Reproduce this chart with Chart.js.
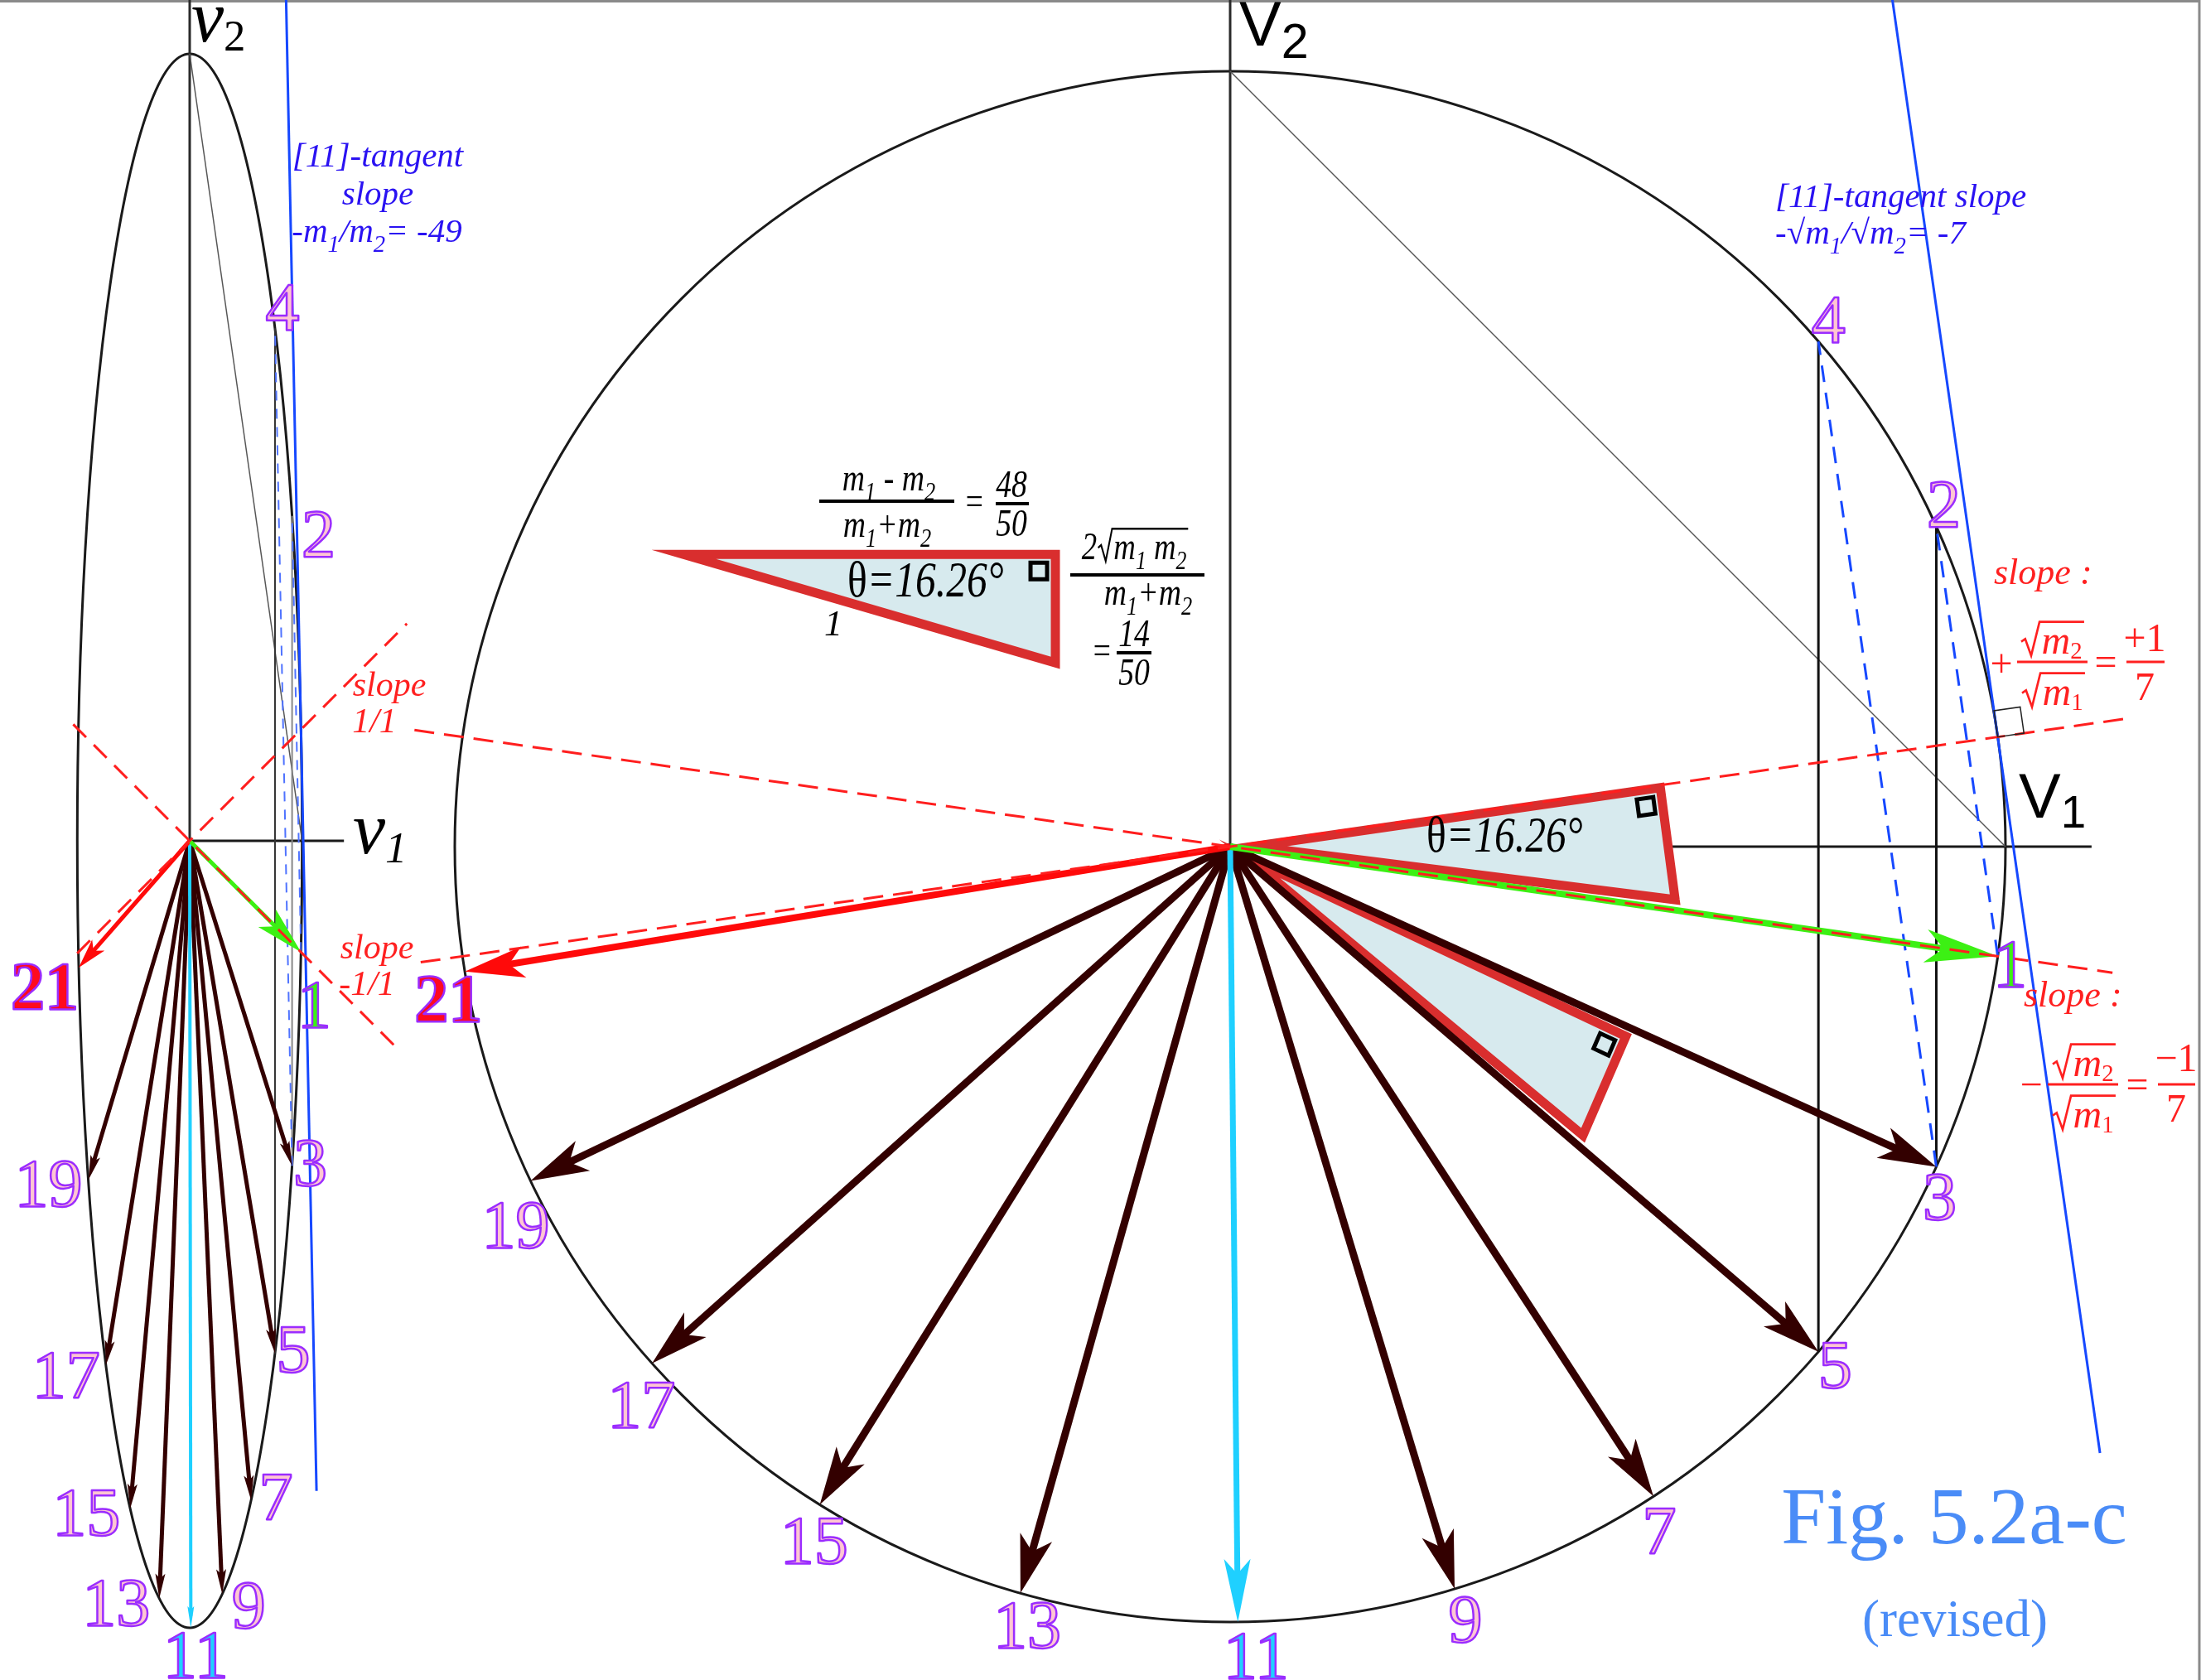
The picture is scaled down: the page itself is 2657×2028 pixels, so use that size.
<!DOCTYPE html>
<html>
<head>
<meta charset="utf-8">
<script src="https://cdn.jsdelivr.net/npm/chart.js@4.4.1/dist/chart.umd.min.js"></script>
<style>
  html, body { margin: 0; padding: 0; background: #fff; }
  canvas { display: block; }
</style>
</head>
<body>
<canvas id="fig" width="2657" height="2028"></canvas>
<script>
// ---- data ----
const masses = [49, 1];                 // m1, m2
const thetaDeg = 16.26;                 // rotation per bounce pair
const pointLabels = ['1', '2', '3', '4', '5', '7', '9', '11', '13', '15', '17', '19', '21'];
const pointAngles = [-8.13, 24.39, -24.39, 40.65, -40.65, -56.91, -73.17, -89.43, -105.69, -121.95, -138.21, -154.47, -170.73];
const arrowLabels = ['3', '5', '7', '9', '13', '15', '17', '19', '11', '21', '1'];
const wallLines = [['4', '5'], ['2', '3']];      // V2 flips
const hitLines = [['1', '2'], ['3', '4']];       // momentum lines
const tangentDeg = 8.13;                         // where the +1/7 line meets the circle

// ---- layout ----
const W = 2657, H = 2028;
const SERIF = '"Liberation Serif", "Times New Roman", Times, serif';
const SANS = '"Liberation Sans", Arial, Helvetica, sans-serif';
const circleFrame = { cx: 1485, cy: 1022, r: 936 };
const ellipseFrame = { cx: 229, cy: 1015, r: 950 };

const circleLabelOffset = {'1': [15, 9], '2': [9, -27], '3': [4, 36], '4': [12, -27], '5': [20, 15], '7': [7, 41], '9': [13, 36],
  '11': [22, 40], '13': [8, 38], '15': [-7, 43], '17': [-13, 49], '19': [-18, 53], '21': [-20, 32]};
const ellipseLabelOffset = {'1': [16, 63], '2': [32, 21], '3': [22, -4], '4': [9, -26], '5': [22, -6], '7': [30, -5], '9': [32, 13],
  '11': [6, 32], '13': [-52, 5], '15': [-53, 4], '17': [-48, 11], '19': [-48, 4], '21': [-41, 22]};

const BROWN = '#330000', CYAN = '#1fd0ff', GREEN = '#3cf014', RED = '#ff0a0a';
const DASHRED = '#ff1e1e', BLUE = '#1648ff', TRI_RED = '#d92e2e', TRI_FILL = '#d7eaee';

const rad = d => d * Math.PI / 180;
const theta = rad(thetaDeg);
const squash = Math.sqrt(masses[1] / masses[0]);          // 1/7
const onCircle = (deg, r = 1) => ({ x: r * Math.cos(rad(deg)), y: r * Math.sin(rad(deg)) });
const toEllipse = p => ({ x: p.x * squash, y: p.y });
const P = l => onCircle(pointAngles[pointLabels.indexOf(l)]);

const datasets = [];
function addLine(pts, style, grp) {
  datasets.push(Object.assign({
    data: pts, showLine: true, pointRadius: 0, pointHoverRadius: 0, pointHitRadius: 0,
    fill: false, tension: 0, borderColor: '#000', borderWidth: 3, borderCapStyle: 'butt',
    borderJoinStyle: 'miter',
    xAxisID: grp === 'e' ? 'ex' : 'x', yAxisID: grp === 'e' ? 'ey' : 'y'
  }, style));
}
function arrowStyle(l, small) {
  const big = {
    '1': { c: GREEN, w: 8, len: 88, half: 20, notch: 22 },
    '11': { c: CYAN, w: 7, len: 76, half: 16, notch: 18 },
    '21': { c: RED, w: 8, len: 72, half: 19, notch: 18 }
  };
  const sm = {
    '1': { c: GREEN, w: 5, len: 58, half: 15, notch: 14 },
    '11': { c: CYAN, w: 4, len: 26, half: 4, notch: 4 },
    '21': { c: RED, w: 5, len: 36, half: 10, notch: 9 }
  };
  const t = small ? sm : big;
  return t[l] || (small ? { c: BROWN, w: 5, len: 30, half: 6, notch: 6 } : { c: BROWN, w: 9, len: 70, half: 20, notch: 18 });
}

// ---------- ellipse (v1, v2) ----------
const eTop = ellipseFrame.cy / ellipseFrame.r + 0.01;
addLine([{ x: 0, y: 0 }, { x: 0, y: eTop }], { borderColor: '#2a2a2a' }, 'e');
addLine([{ x: 0, y: 0 }, { x: 0.196, y: 0 }], { borderColor: '#1a1a1a' }, 'e');
addLine([{ x: 0, y: 1 }, { x: squash, y: 0 }], { borderColor: '#555', borderWidth: 1.5 }, 'e');
wallLines.forEach(([a, b], i) => addLine([toEllipse(P(a)), toEllipse(P(b))],
  { borderColor: i ? '#888' : '#333', borderWidth: 2 }, 'e'));
hitLines.forEach(([a, b]) => addLine([toEllipse(P(a)), toEllipse(P(b))],
  { borderColor: '#4f73ff', borderWidth: 2, borderDash: [12, 10] }, 'e'));
{
  const T = toEllipse(onCircle(tangentDeg));
  const k = -masses[0] / masses[1];
  const y1 = 1.07, y2 = -0.826;
  addLine([{ x: T.x + (y1 - T.y) / k, y: y1 }, { x: T.x + (y2 - T.y) / k, y: y2 }], { borderColor: BLUE, borderWidth: 3 }, 'e');
}
arrowLabels.forEach(l => {
  const s = arrowStyle(l, true);
  const tip = toEllipse(P(l));
  const d = Math.hypot(tip.x, tip.y), cut = (s.len * 0.55) / ellipseFrame.r;
  const end = { x: tip.x * (1 - cut / d), y: tip.y * (1 - cut / d) };
  addLine([{ x: 0, y: 0 }, end], { borderColor: s.c, borderWidth: s.w, head: Object.assign({ tip }, s) }, 'e');
});
[[1, -0.143, 0.276], [-1, -0.148, 0.262]].forEach(([k, a, b]) => {
  const slope = k * Math.tan(rad(tangentDeg)) / squash;   // ±1 in (v1, v2)
  addLine([{ x: a, y: slope * a }, { x: b, y: slope * b }], { borderColor: DASHRED, borderWidth: 3, borderDash: [22, 13] }, 'e');
});

// ---------- circle (V1, V2) ----------
addLine([{ x: 0, y: 0 }, { x: 0, y: 1.1 }], { borderColor: '#2a2a2a' });
addLine([{ x: 0, y: 0 }, { x: 1.111, y: 0 }], { borderColor: '#1a1a1a' });
addLine([{ x: 0, y: 1 }, { x: 1, y: 0 }], { borderColor: '#555', borderWidth: 1.5 });
wallLines.forEach(([a, b]) => addLine([P(a), P(b)], { borderColor: '#111', borderWidth: 3 }));
hitLines.forEach(([a, b]) => addLine([P(a), P(b)], { borderColor: BLUE, borderWidth: 3, borderDash: [20, 13] }));
{
  const T = onCircle(tangentDeg);
  const k = -Math.sqrt(masses[0] / masses[1]);
  const y1 = 1.1, y2 = -0.782;
  addLine([{ x: T.x + (y1 - T.y) / k, y: y1 }, { x: T.x + (y2 - T.y) / k, y: y2 }], { borderColor: BLUE, borderWidth: 3 });
}
// triangles: [apex, right-angle corner, far corner]
const triangles = [
  [onCircle(0.5, 0.03), onCircle(7.8, 0.56), onCircle(-6.8, 0.578)],
  [onCircle(-32, 0.03), onCircle(-25.6, 0.566), onCircle(-39.3, 0.588)],
  (() => { const a = { x: -0.705, y: 0.377 }, b = { x: -0.2254, y: 0.377 };
           return [a, b, { x: b.x, y: b.y - (b.x - a.x) * Math.tan(theta) }]; })()
];
triangles.forEach(t => addLine([t[1], t[2], t[0], t[1], t[2]],
  { borderColor: TRI_RED, borderWidth: 11, shapeFill: TRI_FILL, corner: t }));
arrowLabels.forEach(l => {
  const s = arrowStyle(l, false);
  const tip = P(l);
  const cut = (s.len * 0.6) / circleFrame.r;
  const end = { x: tip.x * (1 - cut), y: tip.y * (1 - cut) };
  addLine([{ x: 0, y: 0 }, end], { borderColor: s.c, borderWidth: s.w, head: Object.assign({ tip }, s) });
});
[[1, -1.044, 1.156], [-1, -1.052, 1.138]].forEach(([k, a, b]) => {
  const slope = k * Math.tan(rad(tangentDeg));            // ±1/7
  addLine([{ x: a, y: slope * a }, { x: b, y: slope * b }], { borderColor: DASHRED, borderWidth: 3, borderDash: [24, 12] });
});

datasets.forEach((d, i) => { d.order = datasets.length - i; });

// ---------- text helpers ----------
const I = (t) => ({ t, it: true });
const U = (t) => ({ t, it: false });
const S = (t, it = true) => ({ t, it, sub: true });
const Q = (parts) => ({ sq: parts });

function fontStr(o, size, it) {
  return (it ? 'italic ' : '') + (o.bold ? 'bold ' : '') + size + 'px ' + o.family;
}
function measureParts(ctx, parts, o) {
  let w = 0;
  for (const p of parts) {
    if (p.sq) w += o.size * 0.55 + measureParts(ctx, p.sq, o) + o.size * 0.05;
    else {
      ctx.font = fontStr(o, p.sub ? o.size * o.subScale : o.size, p.it);
      w += ctx.measureText(p.t).width;
    }
  }
  return w;
}
function drawParts(ctx, parts, x, y, o) {
  for (const p of parts) {
    if (p.sq) {
      const s = o.size, inner = measureParts(ctx, p.sq, o);
      ctx.beginPath();
      ctx.moveTo(x + 0.04 * s, y - 0.30 * s);
      ctx.lineTo(x + 0.14 * s, y - 0.37 * s);
      ctx.lineTo(x + 0.29 * s, y + 0.05 * s);
      ctx.lineTo(x + 0.50 * s, y - 0.80 * s);
      ctx.lineTo(x + 0.55 * s + inner + 0.05 * s, y - 0.80 * s);
      ctx.lineWidth = s * 0.055; ctx.strokeStyle = o.color; ctx.lineJoin = 'miter'; ctx.stroke();
      x = drawParts(ctx, p.sq, x + 0.55 * s, y, o) + 0.05 * s;
    } else {
      const size = p.sub ? o.size * o.subScale : o.size;
      ctx.font = fontStr(o, size, p.it);
      ctx.fillText(p.t, x, y + (p.sub ? o.size * o.subDy : 0));
      x += ctx.measureText(p.t).width;
    }
  }
  return x;
}
function rich(ctx, parts, x, y, opts) {
  const o = Object.assign({ size: 40, family: SERIF, color: '#000', align: 'left',
    subScale: 0.65, subDy: 0.24, hscale: 1 }, opts);
  ctx.save();
  ctx.fillStyle = o.color; ctx.textAlign = 'left'; ctx.textBaseline = 'alphabetic';
  const w = measureParts(ctx, parts, o) * o.hscale;
  const x0 = o.align === 'center' ? x - w / 2 : o.align === 'right' ? x - w : x;
  ctx.translate(x0, y); ctx.scale(o.hscale, 1);
  drawParts(ctx, parts, 0, 0, o);
  ctx.restore();
}
function bar(ctx, x1, x2, y, color, w) {
  ctx.save(); ctx.strokeStyle = color; ctx.lineWidth = w;
  ctx.beginPath(); ctx.moveTo(x1, y); ctx.lineTo(x2, y); ctx.stroke(); ctx.restore();
}
function numberLabel(ctx, text, cx, cy) {
  const fills = { '1': '#3cf014', '11': '#1fd0ff', '21': '#ff0a1e' };
  const size = 82;
  ctx.save();
  ctx.font = (text === '21' ? 'bold ' : '') + size + 'px ' + SERIF;
  ctx.textAlign = 'center'; ctx.textBaseline = 'alphabetic';
  const by = cy + size * 0.34;
  ctx.fillStyle = fills[text] || '#ffc6d2';
  ctx.fillText(text, cx, by);
  ctx.lineWidth = 2.5; ctx.strokeStyle = '#9b2cff'; ctx.lineJoin = 'round';
  ctx.strokeText(text, cx, by);
  ctx.restore();
}

// ---------- drawing plugin ----------
const pix = (chart, xs, ys, p) => ({ x: chart.scales[xs].getPixelForValue(p.x), y: chart.scales[ys].getPixelForValue(p.y) });

const figurePlugin = {
  id: 'figure',
  beforeDatasetsDraw(chart) {
    const ctx = chart.ctx;
    ctx.save();
    // page frame
    ctx.strokeStyle = '#8a8a8a'; ctx.lineWidth = 3;
    ctx.beginPath(); ctx.moveTo(0, 1.5); ctx.lineTo(W - 2, 1.5); ctx.lineTo(W - 2, H); ctx.stroke();
    // circle
    const c0 = pix(chart, 'x', 'y', { x: 0, y: 0 }), c1 = pix(chart, 'x', 'y', { x: 1, y: 1 });
    ctx.strokeStyle = '#1a1a1a'; ctx.lineWidth = 3;
    ctx.beginPath(); ctx.ellipse(c0.x, c0.y, c1.x - c0.x, c0.y - c1.y, 0, 0, Math.PI * 2); ctx.stroke();
    // ellipse
    const e0 = pix(chart, 'ex', 'ey', { x: 0, y: 0 }), e1 = pix(chart, 'ex', 'ey', { x: squash, y: 1 });
    ctx.beginPath(); ctx.ellipse(e0.x, e0.y, e1.x - e0.x, e0.y - e1.y, 0, 0, Math.PI * 2); ctx.stroke();
    ctx.restore();
  },
  beforeDatasetDraw(chart, args) {
    const ds = chart.data.datasets[args.index];
    if (!ds.shapeFill) return;
    const pts = args.meta.data;
    const ctx = chart.ctx;
    ctx.save(); ctx.fillStyle = ds.shapeFill;
    ctx.beginPath(); ctx.moveTo(pts[0].x, pts[0].y); ctx.lineTo(pts[1].x, pts[1].y); ctx.lineTo(pts[2].x, pts[2].y);
    ctx.closePath(); ctx.fill(); ctx.restore();
  },
  afterDatasetDraw(chart, args) {
    const ds = chart.data.datasets[args.index];
    const ctx = chart.ctx;
    if (ds.head) {
      const h = ds.head;
      const tip = pix(chart, ds.xAxisID, ds.yAxisID, h.tip);
      const o = pix(chart, ds.xAxisID, ds.yAxisID, { x: 0, y: 0 });
      const L = Math.hypot(o.x - tip.x, o.y - tip.y);
      const bx = (o.x - tip.x) / L, by = (o.y - tip.y) / L, nx = -by, ny = bx;
      ctx.save(); ctx.fillStyle = h.c;
      ctx.beginPath();
      ctx.moveTo(tip.x, tip.y);
      ctx.lineTo(tip.x + bx * h.len + nx * h.half, tip.y + by * h.len + ny * h.half);
      ctx.lineTo(tip.x + bx * (h.len - h.notch), tip.y + by * (h.len - h.notch));
      ctx.lineTo(tip.x + bx * h.len - nx * h.half, tip.y + by * h.len - ny * h.half);
      ctx.closePath(); ctx.fill(); ctx.restore();
    }
    if (ds.corner) {
      const [a, v, b] = ds.corner.map(p => pix(chart, 'x', 'y', p));
      const ul = Math.hypot(a.x - v.x, a.y - v.y), wl = Math.hypot(b.x - v.x, b.y - v.y);
      const u = { x: (a.x - v.x) / ul, y: (a.y - v.y) / ul }, w = { x: (b.x - v.x) / wl, y: (b.y - v.y) / wl };
      const d = 10, s = 20;
      const q = (i, j) => ({ x: v.x + u.x * i + w.x * j, y: v.y + u.y * i + w.y * j });
      const c = [q(d, d), q(d + s, d), q(d + s, d + s), q(d, d + s)];
      ctx.save(); ctx.strokeStyle = '#000'; ctx.lineWidth = 5;
      ctx.beginPath(); c.forEach((p, i) => i ? ctx.lineTo(p.x, p.y) : ctx.moveTo(p.x, p.y));
      ctx.closePath(); ctx.stroke(); ctx.restore();
    }
  },
  afterDatasetsDraw(chart) {
    const ctx = chart.ctx;
    // tangent right-angle mark
    {
      const T = pix(chart, 'x', 'y', onCircle(tangentDeg));
      const a = rad(tangentDeg);
      const u = { x: Math.cos(a), y: -Math.sin(a) }, w = { x: -Math.sin(a), y: -Math.cos(a) }, s = 32;
      ctx.save(); ctx.strokeStyle = '#222'; ctx.lineWidth = 1.5;
      ctx.beginPath(); ctx.moveTo(T.x, T.y); ctx.lineTo(T.x + u.x * s, T.y + u.y * s);
      ctx.lineTo(T.x + u.x * s + w.x * s, T.y + u.y * s + w.y * s); ctx.lineTo(T.x + w.x * s, T.y + w.y * s);
      ctx.closePath(); ctx.stroke(); ctx.restore();
    }
    // point numbers
    pointLabels.forEach(l => {
      const c = pix(chart, 'x', 'y', P(l)), oc = circleLabelOffset[l];
      numberLabel(ctx, l, c.x + oc[0], c.y + oc[1]);
      const e = pix(chart, 'ex', 'ey', toEllipse(P(l))), oe = ellipseLabelOffset[l];
      numberLabel(ctx, l, e.x + oe[0], e.y + oe[1]);
    });

    // axis names
    rich(ctx, [I('v'), S('2', false)], 231, 50, { size: 88, subScale: 0.6, subDy: 0.12 });
    rich(ctx, [I('v'), S('1')], 426, 1030, { size: 88, subScale: 0.6, subDy: 0.12 });
    rich(ctx, [U('V'), S('2', false)], 1496, 55, { size: 76, family: SANS, subScale: 0.78, subDy: 0.2 });
    rich(ctx, [U('V'), S('1', false)], 2437, 987, { size: 76, family: SANS, subScale: 0.72, subDy: 0.16 });

    // blue tangent notes
    const blue = '#2a12f2';
    rich(ctx, [I('[11]-tangent')], 456, 201, { size: 41, color: blue, align: 'center' });
    rich(ctx, [I('slope')], 456, 247, { size: 41, color: blue, align: 'center' });
    rich(ctx, [I('-m'), S('1'), I('/m'), S('2'), I('= -49')], 455, 292, { size: 41, color: blue, align: 'center', subScale: 0.7, subDy: 0.3 });
    rich(ctx, [I('[11]-tangent slope')], 2143, 250, { size: 41, color: blue });
    rich(ctx, [I('-\u221Am'), S('1'), I('/\u221Am'), S('2'), I('= -7')], 2143, 294, { size: 41, color: blue, subScale: 0.7, subDy: 0.3 });

    // slopes on the ellipse
    const red = '#ff2020';
    rich(ctx, [I('slope')], 470, 840, { size: 42, color: red, align: 'center' });
    rich(ctx, [I('1/1')], 452, 884, { size: 42, color: red, align: 'center' });
    rich(ctx, [I('slope')], 455, 1157, { size: 42, color: red, align: 'center' });
    rich(ctx, [I('-1/1')], 443, 1201, { size: 42, color: red, align: 'center' });

    // slopes on the circle
    const fr = { size: 48, color: red, align: 'center', subScale: 0.6, subDy: 0.12 };
    rich(ctx, [I('slope :')], 2407, 705, { size: 44, color: red });
    rich(ctx, [U('+')], 2416, 817, fr);
    rich(ctx, [Q([I('m'), S('2', false)])], 2477, 789, fr);
    bar(ctx, 2435, 2520, 799, red, 3);
    rich(ctx, [Q([I('m'), S('1', false)])], 2478, 851, fr);
    rich(ctx, [U('=')], 2542, 815, fr);
    rich(ctx, [U('+1')], 2589, 786, fr);
    bar(ctx, 2567, 2613, 799, red, 3);
    rich(ctx, [U('7')], 2589, 845, fr);

    rich(ctx, [I('slope :')], 2443, 1215, { size: 44, color: red });
    rich(ctx, [U('\u2212')], 2452, 1325, fr);
    rich(ctx, [Q([I('m'), S('2', false)])], 2515, 1299, fr);
    bar(ctx, 2472, 2557, 1309, red, 3);
    rich(ctx, [Q([I('m'), S('1', false)])], 2515, 1361, fr);
    rich(ctx, [U('=')], 2580, 1325, fr);
    rich(ctx, [U('\u22121')], 2627, 1293, fr);
    bar(ctx, 2605, 2650, 1309, red, 3);
    rich(ctx, [U('7')], 2627, 1354, fr);

    // triangle formulas
    const fm = { size: 46, align: 'center', hscale: 0.82, subScale: 0.7, subDy: 0.25 };
    rich(ctx, [I('m'), S('1'), I(' - '), I('m'), S('2')], 1073, 592, fm);
    bar(ctx, 989, 1152, 605, '#000', 4);
    rich(ctx, [I('m'), S('1'), I('+'), I('m'), S('2')], 1071, 648, fm);
    rich(ctx, [I('=')], 1176, 620, fm);
    rich(ctx, [I('48')], 1221, 600, fm);
    bar(ctx, 1202, 1242, 608, '#000', 4);
    rich(ctx, [I('50')], 1221, 647, fm);

    rich(ctx, [I('2'), Q([I('m'), S('1'), I(' '), I('m'), S('2')])], 1370, 675, Object.assign({}, fm, { hscale: 0.8 }));
    bar(ctx, 1292, 1454, 694, '#000', 4);
    rich(ctx, [I('m'), S('1'), I('+'), I('m'), S('2')], 1386, 730, fm);
    rich(ctx, [I('=')], 1330, 800, fm);
    rich(ctx, [I('14')], 1369, 780, fm);
    bar(ctx, 1348, 1390, 788, '#000', 4);
    rich(ctx, [I('50')], 1369, 827, fm);
    rich(ctx, [I('1')], 1006, 767, { size: 44, align: 'center' });

    const th = [U('\u03B8'), I('=16.26\u00B0')];
    rich(ctx, th, 1023, 720, { size: 62, hscale: 0.8 });
    rich(ctx, th, 1722, 1028, { size: 62, hscale: 0.8 });

    // caption
    rich(ctx, [U('Fig. 5.2a-c')], 2359, 1863, { size: 97, color: '#4a8cf7', align: 'center' });
    rich(ctx, [U('(revised)')], 2360, 1975, { size: 63, color: '#4a8cf7', align: 'center' });
  }
};

function frameScales(f) {
  return [
    { axis: 'x', type: 'linear', display: false, bounds: 'data', min: -f.cx / f.r, max: (W - f.cx) / f.r },
    { axis: 'y', type: 'linear', display: false, bounds: 'data', min: -(H - f.cy) / f.r, max: f.cy / f.r }
  ];
}
const [cx, cy] = frameScales(circleFrame);
const [ex, ey] = frameScales(ellipseFrame);

new Chart(document.getElementById('fig').getContext('2d'), {
  type: 'scatter',
  data: { datasets },
  options: {
    responsive: false,
    devicePixelRatio: 1,
    animation: false,
    events: [],
    layout: { padding: 0 },
    plugins: { legend: { display: false }, tooltip: { enabled: false }, title: { display: false } },
    scales: { x: cx, y: cy, ex: ex, ey: ey }
  },
  plugins: [figurePlugin]
});
</script>
</body>
</html>
